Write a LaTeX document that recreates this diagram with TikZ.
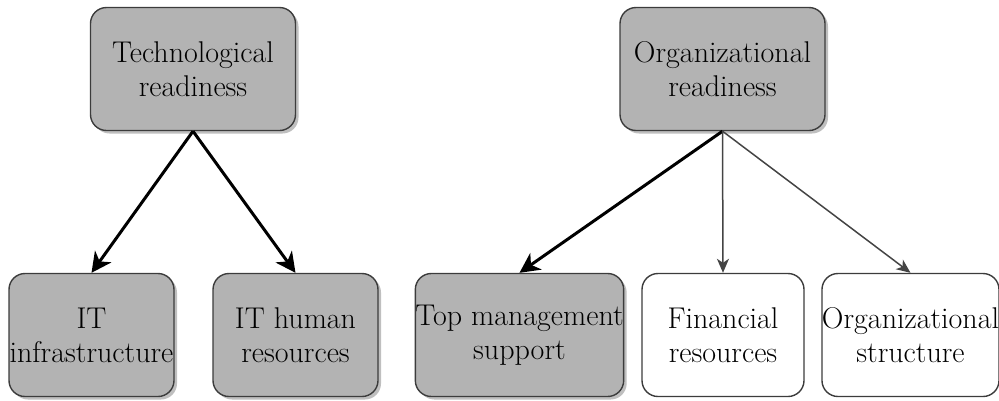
\documentclass[tikz,border=0pt]{standalone}
\usetikzlibrary{arrows.meta,shadows}
\definecolor{boxgray}{HTML}{B3B3B3}
\definecolor{boxedge}{HTML}{3C3C3C}
\definecolor{thinline}{HTML}{444444}
\begin{document}
\begin{tikzpicture}[x=1pt,y=-1pt,
  box/.style={draw=boxedge, line width=1.4pt, rounded corners=16pt, align=center,
    inner sep=0pt, minimum height=123pt, font=\fontsize{30}{34}\selectfont, text=black},
  graybox/.style={box, fill=boxgray,
    drop shadow={shadow xshift=3pt, shadow yshift=-3pt, fill=black, opacity=0.25}},
  whitebox/.style={box, fill=white},
  strong/.style={-{Stealth[length=20pt,width=20pt,inset=6pt]}, line width=3pt, black},
  weak/.style={-{Stealth[length=14pt,width=12pt,inset=4pt]}, line width=1.5pt, thinline}]
\useasboundingbox (0,0) rectangle (999,400);

% top level
\node[graybox, minimum width=205pt] (tech) at (193,69) {Technological\\readiness};
\node[graybox, minimum width=205pt] (org) at (722.5,69) {Organizational\\readiness};

% second level
\node[graybox, minimum width=165pt] (itinf) at (91.5,335) {IT\\infrastructure};
\node[graybox, minimum width=165pt] (ithr) at (295.5,335) {IT human\\resources};
\node[graybox, minimum width=205pt] (topm) at (519.5,335) {Top management\\support};
\node[whitebox, minimum width=162pt] (fin) at (723,335) {Financial\\resources};
\node[whitebox, minimum width=173pt] (orgs) at (910.5,335) {Organizational\\structure};

% connectors
\draw[strong] (tech.south) -- (itinf.north);
\draw[strong] (tech.south) -- (ithr.north);
\draw[strong] (org.south) -- (topm.north);
\draw[weak] (org.south) -- (fin.north);
\draw[weak] (org.south) -- (orgs.north);
\end{tikzpicture}
\end{document}
